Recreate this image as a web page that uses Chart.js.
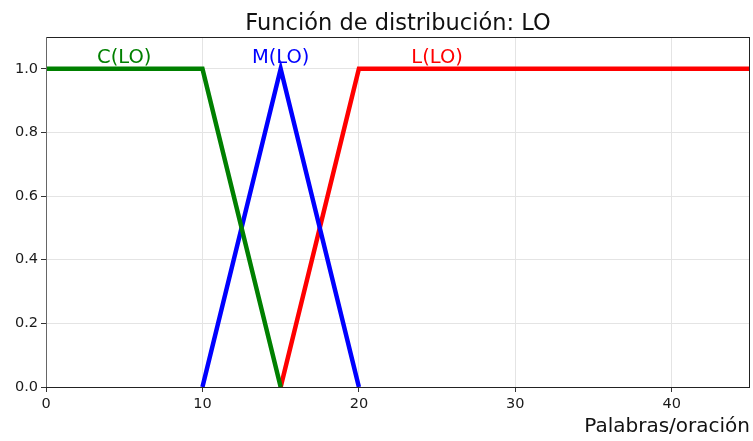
<!DOCTYPE html>
<html><head><meta charset="utf-8">
<script src="https://cdn.jsdelivr.net/npm/chart.js@4/dist/chart.umd.min.js"></script>
<style>html,body{margin:0;padding:0;background:#fff}#wrap{width:753px;height:441px}</style>
</head><body><div id="wrap"><canvas id="c" width="753" height="441"></canvas></div>
<script>
const titleText = 'Función de distribución: LO';
const xTitle = 'Palabras/oración';
const seriesNames = ['C(LO)', 'M(LO)', 'L(LO)'];
const seriesColors = ['#008000', '#0000ff', '#ff0000'];
const cX = [0, 10, 15];
const cY = [1, 1, 0];
const mX = [10, 15, 20];
const mY = [0, 1, 0];
const lX = [15, 20, 45];
const lY = [0, 1, 1];
const labelX = [5, 15, 25];
const labelY = [1.035, 1.035, 1.035];
const xTicks = [0, 10, 20, 30, 40];
const yTicks = [0, 0.2, 0.4, 0.6, 0.8, 1.0];

const toPts = (xs, ys) => xs.map((x, i) => ({x: x, y: ys[i]}));
const FONT = 'DejaVu Sans';

const labelsPlugin = {
  id: 'labels',
  afterDatasetsDraw(chart) {
    const ctx = chart.ctx, xs = chart.scales.x, ys = chart.scales.y, a = chart.chartArea;
    ctx.save();
    ctx.font = '19.5px "' + FONT + '"';
    ctx.textAlign = 'center';
    ctx.textBaseline = 'middle';
    seriesNames.forEach((n, i) => {
      ctx.fillStyle = seriesColors[i];
      ctx.fillText(n, xs.getPixelForValue(labelX[i]), ys.getPixelForValue(labelY[i]));
    });
    // title centred over the plot area
    ctx.fillStyle = '#111';
    ctx.font = '22.5px "' + FONT + '"';
    ctx.fillText(titleText, (a.left + a.right) / 2, a.top - 13);
    // spines
    ctx.strokeStyle = '#222';
    ctx.lineWidth = 1;
    ctx.beginPath();
    ctx.moveTo(a.left, a.top + 0.5); ctx.lineTo(a.right, a.top + 0.5);
    ctx.moveTo(a.right - 0.5, a.top); ctx.lineTo(a.right - 0.5, a.bottom);
    ctx.moveTo(a.left, a.bottom + 0.5); ctx.lineTo(a.right, a.bottom + 0.5);
    ctx.stroke();
    ctx.strokeStyle = '#666';
    ctx.beginPath();
    ctx.moveTo(a.left + 0.5, a.top); ctx.lineTo(a.left + 0.5, a.bottom);
    ctx.stroke();
    ctx.restore();
  }
};

new Chart(document.getElementById('c'), {
  type: 'line',
  data: {
    datasets: [
      {label: seriesNames[0], data: toPts(cX, cY), borderColor: seriesColors[0]},
      {label: seriesNames[1], data: toPts(mX, mY), borderColor: seriesColors[1]},
      {label: seriesNames[2], data: toPts(lX, lY), borderColor: seriesColors[2]}
    ].map(d => Object.assign(d, {borderWidth: 4.5, pointRadius: 0, tension: 0, fill: false, clip: 3}))
  },
  plugins: [labelsPlugin],
  options: {
    responsive: false,
    animation: false,
    layout: {padding: {left: 0, right: 3, top: 37, bottom: 0}},
    plugins: {
      legend: {display: false},
      tooltip: {enabled: false},
      title: {display: false}
    },
    scales: {
      x: {
        type: 'linear', min: 0, max: 45,
        afterBuildTicks: s => { s.ticks = xTicks.map(v => ({value: v})); },
        afterFit: s => { s.height = 54; },
        ticks: {color: '#1a1a1a', font: {family: FONT, size: 14.5}, padding: 4, maxRotation: 0},
        grid: {color: '#e4e4e4', tickColor: '#333', tickLength: 5, drawOnChartArea: true},
        border: {display: false},
        title: {display: true, text: xTitle, align: 'end', color: '#111',
          font: {family: FONT, size: 20}, padding: {top: 2, bottom: 2}}
      },
      y: {
        type: 'linear', min: 0, max: 1.1,
        afterBuildTicks: s => { s.ticks = yTicks.map(v => ({value: v})); },
        afterFit: s => { s.width = 46; },
        ticks: {color: '#1a1a1a', font: {family: FONT, size: 14.5}, padding: 3,
          callback: v => v.toFixed(1)},
        grid: {color: '#e4e4e4', tickColor: '#333', tickLength: 5},
        border: {display: false}
      }
    }
  }
});
</script></body></html>
